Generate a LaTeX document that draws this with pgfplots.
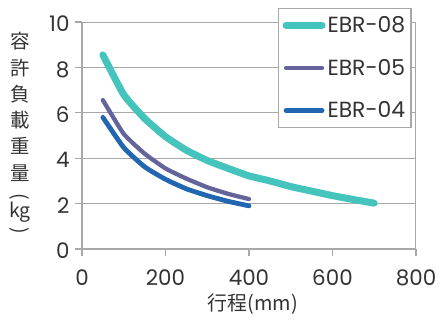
\documentclass[border=0pt]{standalone}
\usepackage{pgfplots}
\pgfplotsset{compat=1.18}
\usepackage{fontspec}
\setmainfont{Poppins}
\newfontfamily\cjk{Noto Sans CJK JP}
\definecolor{cTeal}{HTML}{45C3BD}
\definecolor{cPurple}{HTML}{64649A}
\definecolor{cBlue}{HTML}{2166B0}
\definecolor{cText}{HTML}{333333}
\definecolor{cAxis}{HTML}{A8A8A8}
\newcommand{\vpar}[1]{\rotatebox[origin=c]{-90}{#1}}
\begin{document}
\begin{tikzpicture}
\path[use as bounding box] (0bp,0bp) rectangle (441bp,320bp);
\begin{axis}[
  at={(82bp,71bp)}, anchor=south west,
  scale only axis, width=334bp, height=227bp,
  xmin=0, xmax=800, ymin=0, ymax=10,
  xtick={0,200,400,600,800}, ytick={0,2,4,6,8,10},
  axis x line*=bottom, axis y line*=left,
  axis line style={cAxis, line width=1.8bp},
  ymajorgrids, grid style={cAxis, line width=0.9bp},
  tick align=outside, major tick length=7bp,
  tick style={cAxis, line width=1.2bp},
  /pgf/number format/assume math mode=true,
  ticklabel style={font=\fontsize{21.5}{24}\selectfont, text=cText},
  xticklabel style={yshift=-10bp},
  yticklabel style={xshift=-2bp, yshift=-2bp},
  ylabel={容\\許\\負\\載\\重\\量\\[-4bp]\vpar{(}\\[-11.4bp]kg\\[-7.4bp]\vpar{)}},
  ylabel style={rotate=-90, at={(axis description cs:-0.186,0.505)}, anchor=center, align=center, text=cText,
    font=\cjk\fontsize{19.5}{26.4}\selectfont},
  xlabel={行程(mm)},
  xlabel style={at={(axis description cs:0.512,-0.242)}, anchor=center, text=cText,
    font=\cjk\fontsize{20}{22}\selectfont},
  legend style={at={(axis description cs:0.988,1.062)}, anchor=north east,
    draw=cAxis, line width=1.5bp, fill=white, text=cText,
    font=\fontsize{22}{26}\selectfont, row sep=21bp, inner xsep=4bp, inner ysep=6bp},
  legend cell align=left,
  legend image code/.code={\draw[#1] (0bp,0bp) -- (36bp,0bp);},
]
\addplot[cTeal, line width=7bp, line cap=round, line join=round, smooth, tension=0.3] coordinates {
 (50,8.55) (100,6.8) (150,5.75) (200,4.95) (250,4.35) (300,3.9) (350,3.55) (400,3.22)
 (450,3.0) (500,2.75) (550,2.55) (600,2.35) (650,2.18) (700,2.02)};
\addlegendentry{EBR-08}
\addplot[cPurple, line width=4.3bp, line cap=round, line join=round, smooth, tension=0.3] coordinates {
 (50,6.56) (100,5.07) (150,4.2) (200,3.55) (250,3.1) (300,2.72) (350,2.43) (400,2.2)};
\addlegendentry{EBR-05}
\addplot[cBlue, line width=4.8bp, line cap=round, line join=round, smooth, tension=0.3] coordinates {
 (50,5.8) (100,4.47) (150,3.62) (200,3.07) (250,2.65) (300,2.35) (350,2.1) (400,1.9)};
\addlegendentry{EBR-04}
\draw[cAxis, line width=1.8bp] (rel axis cs:1,0) -- (rel axis cs:1,1);
\end{axis}
\end{tikzpicture}
\end{document}
